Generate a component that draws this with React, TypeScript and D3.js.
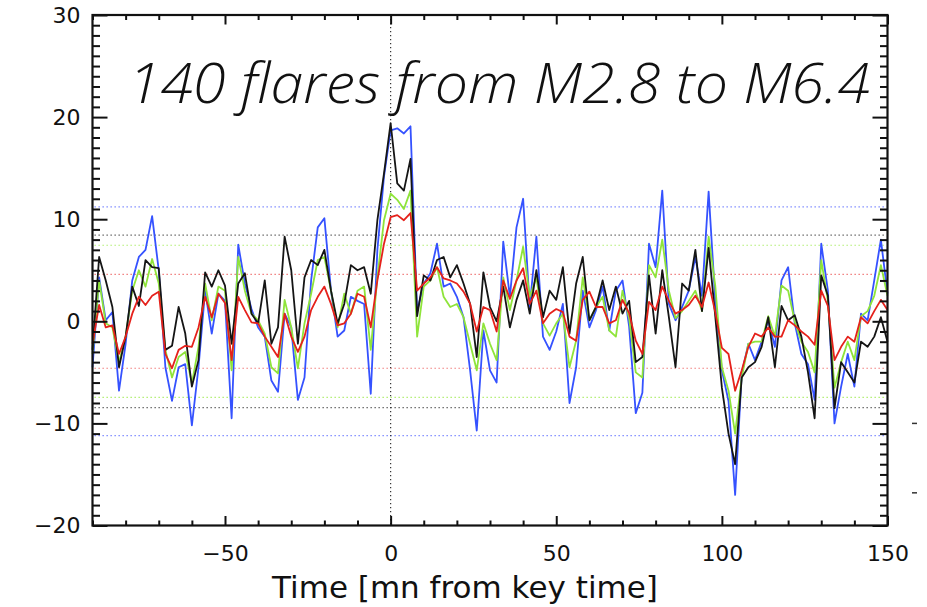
import React, { useRef, useEffect } from "react";
import * as d3 from "d3";

// time axis, minutes from key time (2 min steps)
const minutes = d3.range(-90, 151, 2);

// superposed-epoch curves, one value per time step
const blueSeries = [
  -4.5, 4.3, 0.1, 0.9, -6.8, -2.2, 4.0, 6.3, 7.0, 10.3,
  5.0, -4.5, -7.8, -4.5, -4.2, -10.2, -4.5, 3.0, -1.2, 2.7,
  2.0, -9.5, 7.5, 3.7, 1.2, -0.6, -1.5, -5.8, -6.9, 0.75,
  -0.6, -7.7, -5.5, 4.0, 9.2, 10.1, 3.0, -1.5, -0.9, 2.4,
  2.0, 1.7, -7.1, 7.0, 14.2, 18.7, 18.9, 18.4, 19.1, 1.0,
  3.7, 4.7, 7.6, 3.4, 3.7, 2.4, 0.4, -4.8, -10.7, -0.9,
  -4.8, -6.0, 7.8, 2.4, 9.2, 12.0, 1.4, 8.3, -1.5, -2.8,
  -1.0, 1.7, -8.0, -4.5, 3.0, -0.6, 1.1, 3.4, -0.9, 3.0,
  4.0, -0.5, -9.0, -7.0, 7.6, 5.3, 12.8, 1.7, 0.1, 1.4,
  3.0, 6.3, 2.5, 12.7, 2.1, -4.8, -7.8, -17.0, -5.1, -2.2,
  -3.8, -2.0, 0.1, -2.5, 4.0, 5.3, -0.2, -3.2, -4.2, -7.7,
  7.6, 3.0, -10.0, -6.4, -3.2, -6.4, 0.75, 0.1, 4.0, 8.0,
  2.7,
];

const greenSeries = [
  -3.2, 4.0, -0.2, -0.6, -4.0, -1.5, 3.0, 5.0, 3.4, 6.1,
  3.7, -2.8, -5.5, -3.5, -3.0, -6.1, -2.5, 3.7, 0.1, 3.4,
  3.0, -4.8, 6.3, 3.0, 0.75, 0.1, -1.2, -4.5, -5.1, 2.1,
  -0.6, -4.6, -0.2, 2.7, 6.0, 6.3, 3.0, -0.6, 2.7, 0.75,
  3.0, 3.4, -2.8, 4.3, 9.9, 12.5, 11.9, 11.0, 12.8, -1.5,
  3.4, 4.0, 5.3, 2.4, 1.4, 1.7, 0.4, -2.2, -4.8, -0.2,
  -2.2, -3.8, 4.3, 1.1, 4.0, 7.3, 2.4, 4.3, -0.2, -1.4,
  -0.2, 0.75, -4.5, -1.9, 4.3, 0.1, 1.4, 2.4, -0.9, -1.5,
  3.0, 0.3, -5.0, -5.5, 5.5, 4.3, 8.0, 3.0, 0.3, 1.0,
  2.0, 3.0, 1.0, 8.3, 3.5, -4.5, -6.8, -11.0, -5.5, -2.2,
  -2.0, -2.0, 0.5, -1.5, 3.5, 3.0, 0.0, -2.0, -3.0, -5.0,
  6.0, 2.0, -6.5, -4.0, -2.0, -3.8, 0.5, 1.0, 2.5, 5.5,
  2.5,
];

const blackSeries = [
  -2.8, 6.3, 4.0, 1.4, -4.5, -1.5, 3.4, 1.5, 6.0, 5.3,
  5.2, -2.8, -2.4, 1.4, -1.2, -6.4, -3.8, 4.8, 3.4, 5.0,
  3.5, -2.2, 3.7, 4.7, 0.75, -0.2, 4.0, -2.2, -0.6, 8.3,
  5.0, -2.2, 4.3, 6.0, 5.5, 7.0, 3.0, -0.2, 1.7, 5.5,
  5.0, 5.3, 2.7, 9.9, 14.5, 19.4, 13.5, 12.8, 15.9, 0.5,
  4.5, 4.0, 6.0, 6.3, 4.3, 5.5, 3.7, 1.7, -3.5, 4.8,
  1.4, 0.0, 3.4, -0.6, 2.1, 4.0, 0.75, 5.0, 0.4, 3.0,
  2.1, 5.3, -1.2, 3.7, 6.3, 0.1, 1.4, 4.0, 1.1, 3.4,
  0.75, 2.0, -4.0, -3.5, 4.5, -1.2, 5.0, 0.4, -4.5, 3.7,
  3.0, 7.0, 1.0, 7.2, 0.5, -6.5, -11.0, -14.0, -5.5, -4.5,
  -4.0, -2.5, 0.4, -4.5, 1.5, 0.1, 0.6, -1.5, -5.0, -9.5,
  4.5, 2.5, -8.5, -4.0, -5.0, -6.0, -2.0, -2.5, -1.5, 0.4,
  -2.0,
];

const redSeries = [
  -2.2, 1.6, -0.6, -0.4, -3.2, -1.5, 0.75, 2.4, 1.6, 2.5,
  2.9, -3.2, -4.6, -2.8, -2.4, -2.5, -0.6, 2.4, 0.4, 2.7,
  1.8, -3.8, 2.4, 1.1, -0.1, -0.2, -1.5, -2.5, -3.5, 0.75,
  -1.5, -3.0, -1.5, 1.1, 2.4, 3.4, 1.7, -0.4, -0.2, 0.75,
  2.7, 2.4, -0.6, 4.0, 7.6, 10.2, 10.4, 9.9, 10.6, 3.0,
  3.7, 4.3, 5.3, 4.2, 4.0, 3.7, 2.9, 1.7, -1.0, 1.4,
  1.1, -1.0, 4.0, 2.2, 4.0, 5.2, 1.7, 3.0, -0.2, 0.75,
  1.2, 0.9, -1.5, -1.9, 2.1, 2.9, 1.4, 1.4, -0.2, 0.1,
  2.1, 0.8, -1.9, -3.2, 1.9, 1.1, 3.4, 2.0, 0.75, 1.1,
  1.6, 2.5, 1.4, 3.8, 0.9, -2.6, -3.2, -6.8, -4.8, -2.5,
  -1.2, -1.5, -0.6, -1.5, -1.5, 0.1, -0.4, -1.0, -1.5, -2.3,
  3.0, 1.5, -3.8, -2.5, -1.5, -2.0, 0.4, -0.2, 1.0, 2.1,
  1.1,
];

// significance levels (dotted), one per curve
const levelValues = [11.2, 8.45, 7.45, 4.6];
const levelColors = ["#6f7dff", "#555555", "#a6ec5c", "#ee6a6a"];

const xMajor = [-50, 0, 50, 100, 150];
const yMajor = [-20, -10, 0, 10, 20, 30];

const title = "140 flares from M2.8 to M6.4";
const xTitle = "Time [mn from key time]";

const App = () => {
  const chartRef = useRef(null);

  useEffect(() => {
    const svg = d3.select(chartRef.current);
    svg.selectAll("*").remove();

    const left = 92.5, right = 887.5, top = 15, bottom = 525.5;

    const xScale = d3.scaleLinear().domain([-90, 150]).range([left, right]);
    const yScale = d3.scaleLinear().domain([-20, 30]).range([bottom, top]);

    svg.append("rect").attr("width", 927).attr("height", 607).attr("fill", "#fff");

    // dotted significance levels
    levelValues.forEach((v, i) => {
      [v, -v].forEach((val) => {
        svg.append("line")
          .attr("x1", left + 2).attr("x2", right - 2)
          .attr("y1", yScale(val)).attr("y2", yScale(val))
          .attr("stroke", levelColors[i])
          .attr("stroke-width", 1.2)
          .attr("stroke-dasharray", "1.3,2.7");
      });
    });

    // key time marker
    svg.append("line")
      .attr("x1", xScale(0)).attr("x2", xScale(0))
      .attr("y1", top).attr("y2", bottom)
      .attr("stroke", "#333")
      .attr("stroke-width", 1.2)
      .attr("stroke-dasharray", "1.3,2.7");

    const line = d3.line<number>()
      .x((d, i) => xScale(minutes[i]))
      .y((d) => yScale(d));

    const series = [
      { values: blueSeries, color: "#3552ff" },
      { values: greenSeries, color: "#8fe43a" },
      { values: blackSeries, color: "#151515" },
      { values: redSeries, color: "#e5211b" },
    ];

    series.forEach((s) => {
      svg.append("path")
        .datum(s.values)
        .attr("d", line)
        .attr("fill", "none")
        .attr("stroke", s.color)
        .attr("stroke-width", 1.8)
        .attr("stroke-linejoin", "round");
    });

    // title inside the plot
    svg.append("text")
      .attr("x", 128)
      .attr("y", 103)
      .attr("textLength", 742)
      .attr("lengthAdjust", "spacingAndGlyphs")
      .style("font-family", "'Open Sans', 'Liberation Sans', sans-serif")
      .style("font-style", "italic")
      .style("font-weight", 300)
      .style("font-size", "56px")
      .style("fill", "#111")
      .text(title);

    // axes: ticks inward on all four sides
    const yMinor = d3.range(-20, 31, 1).filter((v) => v % 10 !== 0);
    const xMinor = d3.range(-90, 151, 10).filter((v) => v % 50 !== 0);
    const fontFamily = "'DejaVu Sans', Verdana, sans-serif";

    const leftAxis = svg.append("g")
      .attr("transform", `translate(${left},0)`)
      .call(d3.axisLeft(yScale).tickValues(yMajor).tickSize(-15).tickPadding(12).tickFormat(d3.format("d")));
    svg.append("g")
      .attr("transform", `translate(${left},0)`)
      .call(d3.axisLeft(yScale).tickValues(yMinor).tickSize(-7.5).tickFormat(() => ""));
    svg.append("g")
      .attr("transform", `translate(${right},0)`)
      .call(d3.axisRight(yScale).tickValues(yMajor).tickSize(-15).tickFormat(() => ""));
    svg.append("g")
      .attr("transform", `translate(${right},0)`)
      .call(d3.axisRight(yScale).tickValues(yMinor).tickSize(-7.5).tickFormat(() => ""));

    const bottomAxis = svg.append("g")
      .attr("transform", `translate(0,${bottom})`)
      .call(d3.axisBottom(xScale).tickValues(xMajor).tickSize(-9.5).tickPadding(20).tickFormat(d3.format("d")));
    svg.append("g")
      .attr("transform", `translate(0,${bottom})`)
      .call(d3.axisBottom(xScale).tickValues(xMinor).tickSize(-5).tickFormat(() => ""));
    svg.append("g")
      .attr("transform", `translate(0,${top})`)
      .call(d3.axisTop(xScale).tickValues(xMajor).tickSize(-9.5).tickFormat(() => ""));
    svg.append("g")
      .attr("transform", `translate(0,${top})`)
      .call(d3.axisTop(xScale).tickValues(xMinor).tickSize(-5).tickFormat(() => ""));

    svg.selectAll(".domain").remove();
    svg.selectAll(".tick line").attr("stroke", "#111").attr("stroke-width", 2);
    [leftAxis, bottomAxis].forEach((ax) => {
      ax.selectAll("text")
        .style("font-family", fontFamily)
        .style("font-size", "22px")
        .style("fill", "#111");
    });

    svg.append("rect")
      .attr("x", left).attr("y", top)
      .attr("width", right - left).attr("height", bottom - top)
      .attr("fill", "none")
      .attr("stroke", "#111")
      .attr("stroke-width", 2.2);

    // stray marks right of the frame
    [-10, -16.8].forEach((v) => {
      svg.append("line")
        .attr("x1", 912).attr("x2", 917)
        .attr("y1", yScale(v)).attr("y2", yScale(v))
        .attr("stroke", "#333").attr("stroke-width", 1.5);
    });

    svg.append("text")
      .attr("x", 465)
      .attr("y", 598)
      .attr("text-anchor", "middle")
      .style("font-family", fontFamily)
      .style("font-size", "31px")
      .style("fill", "#111")
      .text(xTitle);
  }, []);

  return (
    <svg
      ref={chartRef}
      width={927}
      height={607}
      style={{ position: "absolute", left: 0, top: 0, display: "block" }}
    ></svg>
  );
};

export default App;
